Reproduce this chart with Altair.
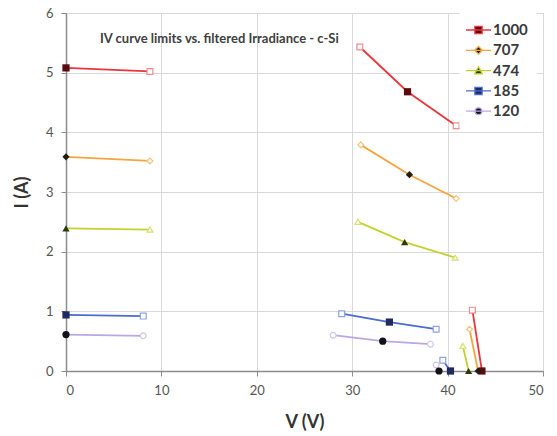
import altair as alt
import pandas as pd

# Irradiance levels (W/m^2) shown in the legend, top to bottom
series = ["1000", "707", "474", "185", "120"]

# Seven points per curve, in this order:
# Isc, end of flat segment, start of knee segment, Pmax, end of knee segment,
# start of Voc segment, Voc
role = ["Isc", "open", "open", "Pmax", "open", "open", "Voc"]
segment = ["a", "a", "b", "b", "b", "c", "c"]

V_1000 = [0.0, 8.8, 30.8, 35.8, 40.9, 42.6, 43.6]
I_1000 = [5.08, 5.02, 5.43, 4.68, 4.11, 1.02, 0.0]

V_707 = [0.0, 8.8, 30.9, 36.0, 40.9, 42.3, 43.2]
I_707 = [3.59, 3.52, 3.79, 3.29, 2.89, 0.70, 0.0]

V_474 = [0.0, 8.8, 30.6, 35.5, 40.8, 41.6, 42.2]
I_474 = [2.39, 2.37, 2.50, 2.16, 1.90, 0.42, 0.0]

V_185 = [0.0, 8.1, 28.9, 33.9, 38.8, 39.5, 40.3]
I_185 = [0.94, 0.92, 0.96, 0.82, 0.70, 0.18, 0.0]

V_120 = [0.0, 8.1, 28.0, 33.2, 38.2, 38.8, 39.1]
I_120 = [0.61, 0.59, 0.60, 0.50, 0.45, 0.10, 0.0]

line_colors = ["#e8363d", "#f5a540", "#c2d231", "#4a6ccf", "#b9a7e6"]
open_colors = ["#f08a8c", "#f7c47e", "#d5e070", "#8ea4e2", "#cfc3ef"]
marker_colors = ["#5a0b0b", "#1d1d12", "#2e3b05", "#1f2a5e", "#121217"]
marker_shapes = ["square", "diamond", "triangle-up", "square", "circle"]

# Legend symbols: a short line with the marker drawn over it
legend_paths = [
    "M-1.25,0H1.25M-0.36,-0.36H0.36V0.36H-0.36Z",
    "M-1.25,0H1.25M0,-0.38L0.38,0L0,0.38L-0.38,0Z",
    "M-1.25,0H1.25M0,-0.38L0.38,0.32L-0.38,0.32Z",
    "M-1.25,0H1.25M-0.36,-0.36H0.36V0.36H-0.36Z",
    "M-1.25,0H1.25M-0.34,0A0.34,0.34 0 1,0 0.34,0A0.34,0.34 0 1,0 -0.34,0Z",
]

curves = {
    "1000": (V_1000, I_1000),
    "707": (V_707, I_707),
    "474": (V_474, I_474),
    "185": (V_185, I_185),
    "120": (V_120, I_120),
}

rows = []
for k, name in enumerate(series):
    vs, cs = curves[name]
    for j, (v, c) in enumerate(zip(vs, cs)):
        rows.append({
            "series": name,
            "V": v,
            "I": c,
            "seg": name + segment[j],
            "order": j,
            "role": role[j],
            "line_color": line_colors[k],
            "open_color": open_colors[k],
            "marker_color": marker_colors[k],
            "shape": marker_shapes[k],
        })
df = pd.DataFrame(rows)

FONT = "Lato"

x = alt.X("V:Q", scale=alt.Scale(domain=[0, 50], nice=False),
          axis=alt.Axis(values=[0, 10, 20, 30, 40, 50], title="V (V)",
                        titleY=51, titleBaseline="middle"))
y = alt.Y("I:Q", scale=alt.Scale(domain=[0, 6], nice=False),
          axis=alt.Axis(values=[0, 1, 2, 3, 4, 5, 6], title="I (A)",
                        titleX=-44, titleBaseline="middle"))

base = alt.Chart(df)

lines = base.mark_line(strokeWidth=1.8).encode(
    x=x, y=y, detail="seg:N", order="order:Q",
    color=alt.Color("line_color:N", scale=None),
)

open_pts = base.transform_filter(alt.datum.role == "open").mark_point(
    filled=False, fill="white", size=34, strokeWidth=1.2, opacity=1
).encode(
    x=x, y=y,
    shape=alt.Shape("shape:N", scale=None),
    stroke=alt.Stroke("open_color:N", scale=None),
)

filled_pts = base.transform_filter(alt.datum.role != "open").mark_point(
    filled=True, size=52, opacity=1
).encode(
    x=x, y=y,
    shape=alt.Shape("shape:N", scale=None),
    fill=alt.Fill("marker_color:N", scale=None),
)

legend = alt.Legend(
    title=None, orient="none", legendX=393.5, legendY=-2,
    symbolSize=400, symbolStrokeWidth=1.3, symbolOpacity=1,
    labelFont=FONT, labelFontSize=15, labelFontWeight="bold",
    labelColor="#3a3a3a", labelOffset=3.5, rowPadding=1.3,
    fillColor="white", padding=8,
)

legend_layer = base.transform_filter(alt.datum.role == "Voc").mark_point(
    opacity=0
).encode(
    x=x, y=y,
    shape=alt.Shape("series:N", scale=alt.Scale(domain=series, range=legend_paths), legend=legend),
    fill=alt.Fill("series:N", scale=alt.Scale(domain=series, range=marker_colors), legend=legend),
    stroke=alt.Stroke("series:N", scale=alt.Scale(domain=series, range=line_colors), legend=legend),
)

chart = alt.layer(lines, open_pts, filled_pts, legend_layer).resolve_scale(
    shape="independent", fill="independent", stroke="independent"
).properties(
    width=477, height=358,
    padding={"left": 66, "top": 13, "right": 14, "bottom": 65},
    autosize=alt.AutoSizeParams(type="none"),
    title=alt.TitleParams(
        "IV curve limits vs. filtered Irradiance - c-Si",
        anchor="start", frame="group", orient="top", baseline="middle",
        dx=34, dy=45, offset=0,
        font=FONT, fontSize=13, fontWeight="bold", color="#404040",
    ),
).configure_view(
    stroke="#8c8c8c", strokeWidth=1
).configure_axis(
    gridColor="#d9d9d9", gridWidth=1,
    domainColor="#8c8c8c", domainWidth=1.5,
    tickColor="#8c8c8c", tickSize=5,
    labelFont=FONT, labelFontSize=13, labelColor="#555555", labelPadding=8,
    titleFont=FONT, titleFontSize=18, titleFontWeight="bold", titleColor="#333333",
)

chart.save("out.html", embed_options={"renderer": "svg", "actions": False})
